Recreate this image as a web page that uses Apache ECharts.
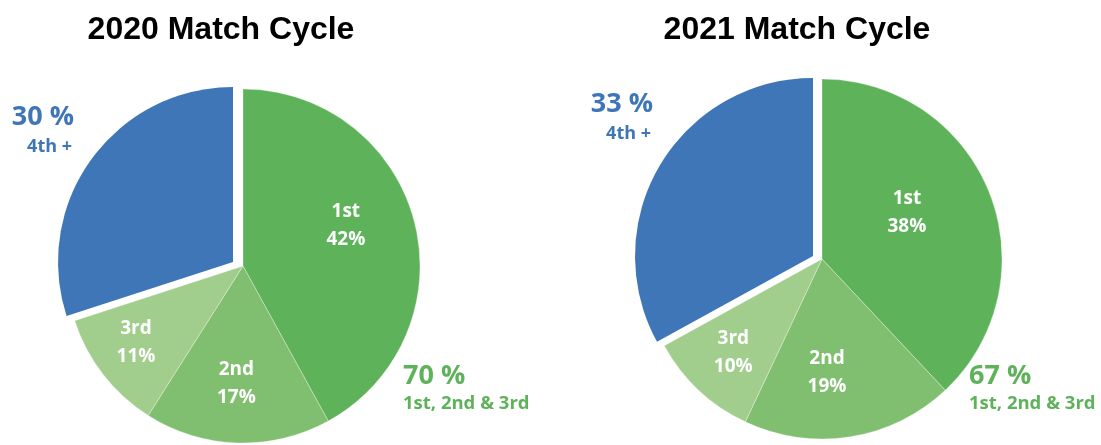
<!DOCTYPE html>
<html>
<head>
<meta charset="utf-8">
<script src="https://cdn.jsdelivr.net/npm/echarts@6/dist/echarts.min.js"></script>
<style>
  html, body { margin: 0; padding: 0; background: #ffffff; }
  #chart { width: 1101px; height: 445px; }
</style>
</head>
<body>
<div id="chart"></div>
<script>
// ---- data ----
const categories = ['1st', '2nd', '3rd', '4th +'];
const values2020 = [42, 17, 11, 30];
const values2021 = [38, 19, 10, 33];
const titles = ['2020 Match Cycle', '2021 Match Cycle'];
const groupLabels = ['1st, 2nd & 3rd', '4th +'];

// ---- styles ----
const sliceColors = ['#5db25a', '#80bf6f', '#a2ce8d', '#3e76b7'];
const blueText = '#3e76b7';
const greenText = '#5db25a';
const transparent = 'rgba(0,0,0,0)';
const FONT = '"Open Sans", Lato, sans-serif';

function pieSeries(values, cfg) {
  const greenSum = values[0] + values[1] + values[2];
  const blueVal = values[3];
  const common = {
    type: 'pie', startAngle: 90, clockwise: true, silent: true,
    animation: false, avoidLabelOverlap: false,
    emphasis: { disabled: true }, labelLine: { show: false }
  };
  const green = Object.assign({}, common, {
    center: cfg.greenCenter, radius: [0, cfg.greenR],
    label: { show: false },
    data: categories.map((c, i) => ({
      name: c, value: values[i],
      itemStyle: i < 3
        ? { color: sliceColors[i], borderColor: 'rgba(255,255,255,0.3)', borderWidth: 1 }
        : { color: transparent, borderWidth: 0 }
    }))
  });
  const blue = Object.assign({}, common, {
    center: cfg.blueCenter, radius: [0, cfg.blueR],
    label: { show: false },
    data: [
      { name: groupLabels[0], value: greenSum, itemStyle: { color: transparent } },
      { name: categories[3], value: blueVal, itemStyle: { color: sliceColors[3] } }
    ]
  });
  const labels = Object.assign({}, common, {
    center: cfg.greenCenter, radius: [cfg.labelR0, cfg.greenR],
    itemStyle: { color: transparent },
    data: categories.map((c, i) => ({
      name: c, value: values[i],
      label: i < 3 ? {
        show: true, position: 'inside', offset: cfg.offsets[i],
        formatter: c + '\n' + values[i] + '%',
        color: '#ffffff', fontFamily: FONT, fontWeight: 'bold', fontSize: 19, lineHeight: 28
      } : { show: false }
    }))
  });
  return [green, blue, labels];
}

function outerTexts(values, cfg) {
  const greenSum = values[0] + values[1] + values[2];
  return [
    { type: 'text', x: cfg.blueX, y: cfg.blueY, style: { text: values[3] + ' %', fill: blueText, font: 'bold 27px ' + FONT, textAlign: 'right', textVerticalAlign: 'middle' } },
    { type: 'text', x: cfg.blueX - 2, y: cfg.blueY + 30, style: { text: groupLabels[1], fill: blueText, font: 'bold 18px ' + FONT, textAlign: 'right', textVerticalAlign: 'middle' } },
    { type: 'text', x: cfg.greenX, y: cfg.greenY, style: { text: greenSum + ' %', fill: greenText, font: 'bold 27px ' + FONT, textAlign: 'left', textVerticalAlign: 'middle' } },
    { type: 'text', x: cfg.greenX, y: cfg.greenY + 28, style: { text: groupLabels[0], fill: greenText, font: 'bold 18.5px ' + FONT, textAlign: 'left', textVerticalAlign: 'middle' } }
  ];
}

const cfg2020 = {
  greenCenter: [243, 266], greenR: 177, blueCenter: [233, 262], blueR: 175, labelR0: 50,
  offsets: [[-10, -11], [-3, 1], [-15, 5]],
  blueX: 74, blueY: 117, greenX: 403, greenY: 376
};
const cfg2021 = {
  greenCenter: [822, 259], greenR: 180, blueCenter: [813, 256], blueR: 178, labelR0: 44,
  offsets: [[-22, -4], [-13, 0], [-10, 10]],
  blueX: 653, blueY: 104, greenX: 969, greenY: 376
};

const chart = echarts.init(document.getElementById('chart'), null, { renderer: 'canvas' });
chart.setOption({
  backgroundColor: '#ffffff',
  animation: false,
  title: [
    { text: titles[0], left: 216, top: 9, textAlign: 'center',
      textStyle: { fontFamily: 'Liberation Sans, Arial, sans-serif', fontWeight: 'bold', fontSize: 32, color: '#000000' } },
    { text: titles[1], left: 792, top: 9, textAlign: 'center',
      textStyle: { fontFamily: 'Liberation Sans, Arial, sans-serif', fontWeight: 'bold', fontSize: 32, color: '#000000' } }
  ],
  series: [].concat(pieSeries(values2020, cfg2020), pieSeries(values2021, cfg2021)),
  graphic: [].concat(outerTexts(values2020, cfg2020), outerTexts(values2021, cfg2021))
});
</script>
</body>
</html>
